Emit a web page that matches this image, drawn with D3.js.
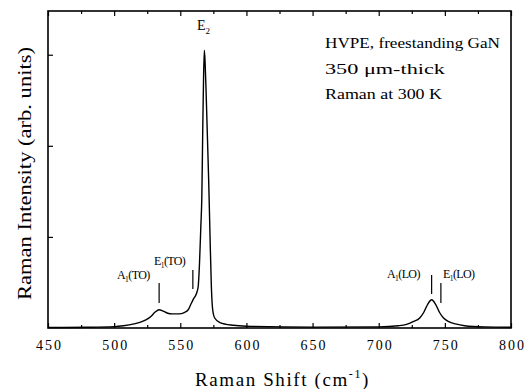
<!DOCTYPE html>
<html>
<head>
<meta charset="utf-8">
<script src="https://cdn.jsdelivr.net/npm/d3@7"></script>
<style>
  body { margin: 0; background: #fff; }
  svg { font-family: "Liberation Serif", "DejaVu Serif", serif; }
</style>
</head>
<body>
<div id="chart"></div>
<script>
// spectrum (Raman shift cm-1, intensity arb.)
const shift = [450, 480, 500, 507, 515, 520, 524, 528, 531, 534, 537, 540, 544, 549, 553, 556, 558, 560, 562, 563.5, 564.5, 565.5, 566.3, 567, 567.6, 568.2, 568.8, 569.5, 570.5, 571.5, 572.5, 573.5, 574.5, 576, 580, 590, 600, 650, 700, 715, 721, 726, 731, 734, 737, 740, 743, 746, 749, 753, 758, 765, 780, 800];
const intensity = [0.005, 0.008, 0.015, 0.025, 0.045, 0.065, 0.09, 0.13, 0.175, 0.20, 0.185, 0.165, 0.155, 0.155, 0.17, 0.2, 0.26, 0.32, 0.37, 0.45, 0.7, 1.1, 1.45, 2.2, 2.75, 3.05, 2.9, 2.6, 2.1, 1.6, 1.0, 0.45, 0.2, 0.11, 0.06, 0.03, 0.02, 0.01, 0.012, 0.025, 0.04, 0.07, 0.11, 0.17, 0.26, 0.31, 0.26, 0.17, 0.11, 0.07, 0.045, 0.025, 0.012, 0.008];

const xTicks = [450, 500, 550, 600, 650, 700, 750, 800];
const yTicks = [1, 2, 3];

// phonon mode markers: main letter, subscript, suffix, position
const modes = [
  { main: "A", sub: "1", rest: "(TO)", pos: 534 },
  { main: "E", sub: "1", rest: "(TO)", pos: 559.5 },
  { main: "A", sub: "1", rest: "(LO)", pos: 740 },
  { main: "E", sub: "1", rest: "(LO)", pos: 747 }
];
const noteLines = ["HVPE, freestanding GaN", "350 \u03bcm-thick", "Raman at 300 K"];

const W = 526, H = 389;
const margin = { left: 48, right: 15, top: 11, bottom: 61 };

const svg = d3.select("#chart").append("svg")
  .attr("width", W).attr("height", H);

const x = d3.scaleLinear().domain([450, 800]).range([margin.left, W - margin.right]);
const y = d3.scaleLinear().domain([0, 3.48]).range([H - margin.bottom, margin.top]);

const data = shift.map((s, i) => ({ s: s, v: intensity[i] }));

// frame
svg.append("rect")
  .attr("x", x(450)).attr("y", y(3.48))
  .attr("width", x(800) - x(450)).attr("height", y(0) - y(3.48))
  .attr("fill", "none").attr("stroke", "#000").attr("stroke-width", 1.6);

// bottom axis, ticks inward
const minor = d3.range(475, 800, 50);
const bottom = svg.append("g").attr("transform", `translate(0,${y(0)})`)
  .call(d3.axisBottom(x).tickValues(xTicks).tickSize(-5).tickPadding(12).tickFormat(d3.format("d")));
bottom.select(".domain").remove();
bottom.selectAll("text").attr("font-size", 14).attr("font-family", "Liberation Serif")
  .attr("letter-spacing", 2).attr("dx", 1);
svg.append("g").attr("transform", `translate(0,${y(0)})`)
  .call(d3.axisBottom(x).tickValues(minor).tickSize(-3).tickFormat(""))
  .select(".domain").remove();

// top axis, ticks inward
svg.append("g").attr("transform", `translate(0,${y(3.48)})`)
  .call(d3.axisTop(x).tickValues(xTicks).tickSize(-5).tickFormat(""))
  .select(".domain").remove();
svg.append("g").attr("transform", `translate(0,${y(3.48)})`)
  .call(d3.axisTop(x).tickValues(minor).tickSize(-3).tickFormat(""))
  .select(".domain").remove();

// left axis, no labels
svg.append("g").attr("transform", `translate(${x(450)},0)`)
  .call(d3.axisLeft(y).tickValues(yTicks).tickSize(-5).tickFormat(""))
  .select(".domain").remove();

svg.selectAll(".tick line").attr("stroke", "#000").attr("stroke-width", 1.2);

// spectrum
const line = d3.line().x(d => x(d.s)).y(d => y(d.v)).curve(d3.curveMonotoneX);
svg.append("path").datum(data)
  .attr("d", line)
  .attr("fill", "none").attr("stroke", "#000").attr("stroke-width", 1.4);

// E2 label
const e2 = svg.append("text").attr("x", 197).attr("y", 30)
  .attr("font-size", 14);
e2.append("tspan").text("E");
e2.append("tspan").attr("font-size", 9).attr("dy", 4).text("2");

// mode markers
const markerGeom = [
  { y1: 283, y2: 303, tx: 117, ty: 279 },
  { y1: 270, y2: 289, tx: 154, ty: 265 },
  { y1: 275, y2: 294, tx: 387, ty: 278 },
  { y1: 283, y2: 303, tx: 443, ty: 278 }
];
modes.forEach((m, i) => {
  const g = markerGeom[i];
  svg.append("line")
    .attr("x1", x(m.pos)).attr("x2", x(m.pos))
    .attr("y1", g.y1).attr("y2", g.y2)
    .attr("stroke", "#000").attr("stroke-width", 1.2);
  const t = svg.append("text").attr("x", g.tx).attr("y", g.ty)
    .attr("font-size", 12).attr("letter-spacing", -0.6);
  t.append("tspan").text(m.main);
  t.append("tspan").attr("font-size", 7.5).attr("dy", 3).text(m.sub);
  t.append("tspan").attr("dy", -3).text(m.rest);
});

// sample note
const noteWidth = [175, 120, 117];
svg.append("g").selectAll("text").data(noteLines).join("text")
  .attr("x", 325).attr("y", (d, i) => 48 + i * 25.5)
  .attr("font-size", 14)
  .attr("textLength", (d, i) => noteWidth[i])
  .attr("lengthAdjust", "spacingAndGlyphs")
  .text(d => d);

// axis titles
const xt = svg.append("text").attr("x", 195).attr("y", 386)
  .attr("font-size", 19).attr("letter-spacing", 1.6);
xt.append("tspan").text("Raman Shift (cm");
xt.append("tspan").attr("font-size", 12).attr("dy", -8).text("-1");
xt.append("tspan").attr("dy", 8).text(")");

svg.append("text")
  .attr("transform", `translate(31,${(y(0) + y(3.48)) / 2 + 4}) rotate(-90)`)
  .attr("text-anchor", "middle").attr("font-size", 19)
  .attr("textLength", 253)
  .attr("lengthAdjust", "spacingAndGlyphs")
  .text("Raman Intensity (arb. units)");
</script>
</body>
</html>
